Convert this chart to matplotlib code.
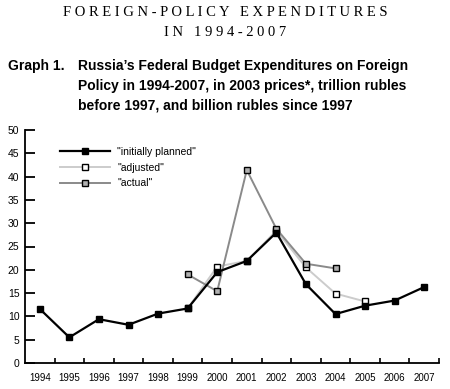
import matplotlib
matplotlib.use('Agg')
import matplotlib.pyplot as plt
import numpy as np

years = ['1994', '1995', '1996', '1997', '1998', '1999', '2000',
         '2001', '2002', '2003', '2004', '2005', '2006', '2007']

# values (None = no value)
planned = [11.6, 5.5, 9.4, 8.2, 10.6, 11.7, 19.5, 21.9, 28.0, 16.9, 10.5, 12.3, 13.4, 16.3]
adjusted = [None, None, None, None, None, 11.7, 20.7, 21.9, 28.4, 20.5, 14.9, 13.2, None, None]
actual = [None, None, None, None, None, 19.0, 15.4, 41.4, 28.8, 21.3, 20.3, None, None, None]

labels = ['"initially planned"', '"adjusted"', '"actual"']

plt.rcParams['font.family'] = ['Liberation Sans', 'DejaVu Sans']

fig = plt.figure(figsize=(4.5, 3.89), dpi=100)
ax = fig.add_axes([25 / 450, 1 - 363 / 389, 414 / 450, 233 / 389])

x = np.arange(len(years))


def series(vals):
    return np.array([np.nan if v is None else v for v in vals], dtype=float)


ax.plot(x, series(adjusted), color='#cccccc', lw=1.4, marker='s', ms=4.5,
        mfc='white', mec='black', mew=1.0, label=labels[1], zorder=2)
ax.plot(x, series(actual), color='#8a8a8a', lw=1.4, marker='s', ms=4.5,
        mfc='#b0b0b0', mec='black', mew=1.0, label=labels[2], zorder=3)
ax.plot(x, series(planned), color='black', lw=1.6, marker='s', ms=5,
        mfc='black', mec='black', label=labels[0], zorder=4)

ax.set_xlim(-0.5, len(years) - 0.5)
ax.set_ylim(0, 50)
ax.set_yticks(np.arange(0, 51, 5))
ax.tick_params(axis='y', direction='in', length=7, width=1.3, labelsize=7.5, pad=4)

ax.set_xticks(x + 0.5)
ax.set_xticklabels([])
ax.tick_params(axis='x', which='major', direction='in', length=3.5, width=1.2)
ax.set_xticks(x, minor=True)
ax.set_xticklabels(years, minor=True)
ax.tick_params(axis='x', which='minor', length=0, labelsize=7, pad=7)

for s in ['top', 'right']:
    ax.spines[s].set_visible(False)
for s in ['left', 'bottom']:
    ax.spines[s].set_linewidth(1.3)

h, l = ax.get_legend_handles_labels()
order = [2, 0, 1]
ax.legend([h[i] for i in order], [l[i] for i in order], loc='upper left',
          bbox_to_anchor=(60 / 450, 1 - 147 / 389), bbox_transform=fig.transFigure,
          frameon=False, fontsize=7.5, handlelength=4.8, handletextpad=0.7,
          labelspacing=0.55, borderpad=0, borderaxespad=0, numpoints=1)

fig.text(0.5, 1 - 13 / 389, 'F O R E I G N - P O L I C Y   E X P E N D I T U R E S',
         ha='center', va='center', family='Liberation Serif', fontsize=10.5)
fig.text(0.5, 1 - 33 / 389, 'I N   1 9 9 4 - 2 0 0 7',
         ha='center', va='center', family='Liberation Serif', fontsize=10.5)

fig.text(8 / 450, 1 - 66 / 389, 'Graph 1.', ha='left', va='center',
         fontsize=10, fontweight='bold')
cap = ['Russia\u2019s Federal Budget Expenditures on Foreign',
       'Policy in 1994-2007, in 2003 prices*, trillion rubles',
       'before 1997, and billion rubles since 1997']
for i, line in enumerate(cap):
    fig.text(78 / 450, 1 - (66 + i * 20) / 389, line, ha='left', va='center',
             fontsize=10, fontweight='bold')

fig.savefig('out.png', dpi=100)
